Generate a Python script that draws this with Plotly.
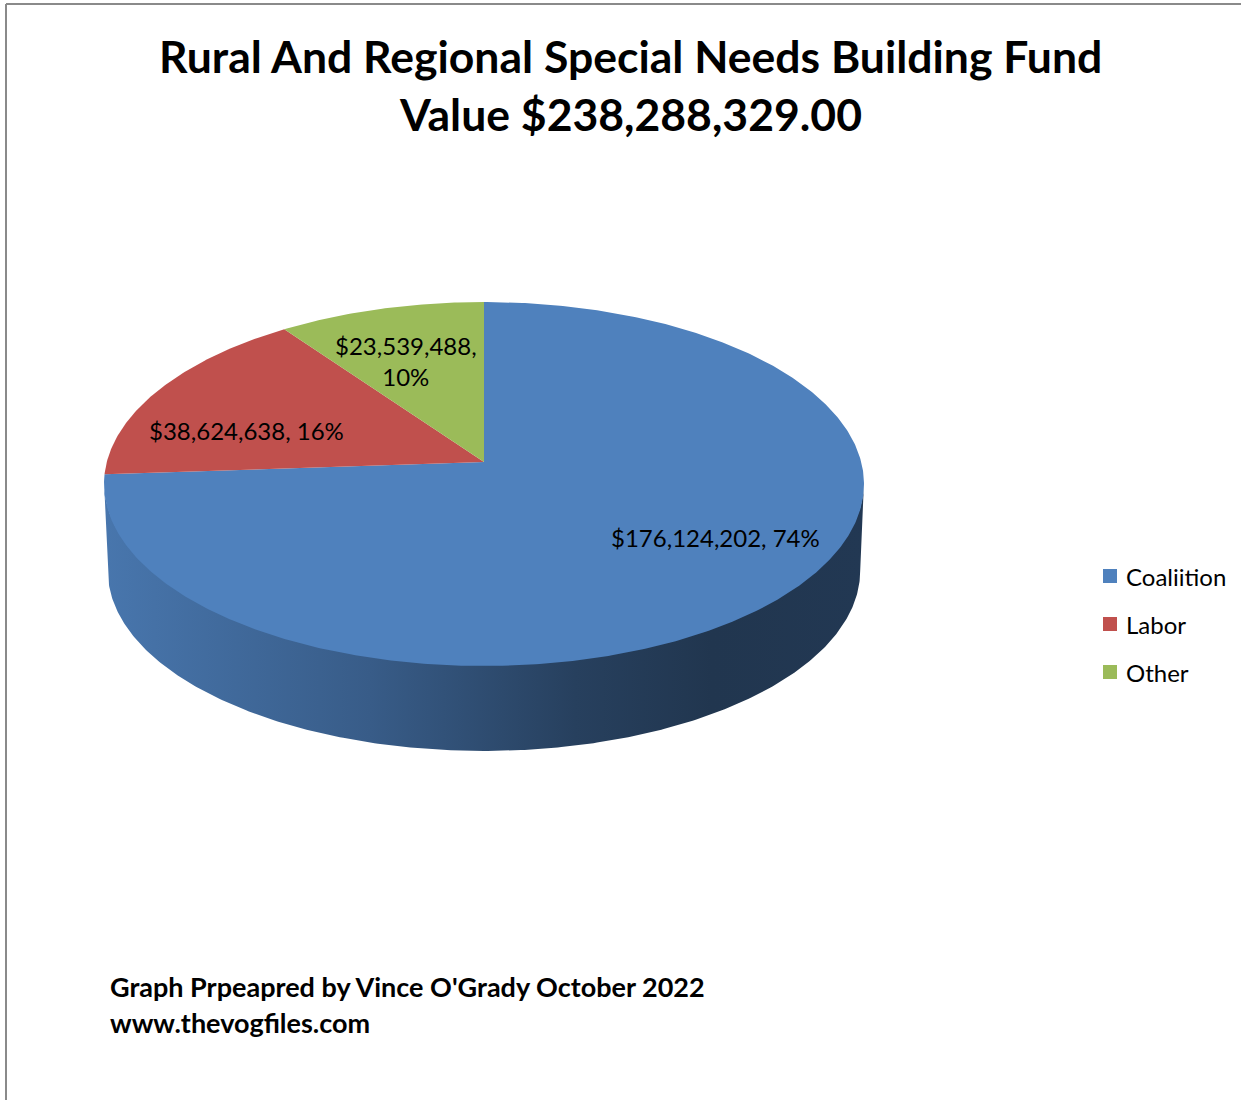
import math
import plotly.graph_objects as go

# ---------------- data ----------------
categories = ["Coaliition", "Labor", "Other"]
values = [176124202, 38624638, 23539488]
title_lines = ["Rural And Regional Special Needs Building Fund", "Value $238,288,329.00"]
footer_lines = ["Graph Prpeapred by Vince O'Grady October 2022", "www.thevogfiles.com"]

# ---------------- style ----------------
W, H = 1241, 1100
COLORS = ["#4F81BD", "#C0504D", "#9BBB59"]
FONT = "Lato, 'Open Sans', sans-serif"
CX, CY = 484, 462          # projected centre of the top face
R, S, K = 377.2, 179.3, 0.121   # perspective ellipse parameters
DEPTH, BOT_SCALE = 87, 0.99
SEAM = 2.0                 # side drawn slightly under the top face to hide seam
LABEL_POS = [(715, 537), (246, 430), (406, 361)]


def proj(u, v, bottom=False):
    w = 1 + K * v
    if bottom:
        return CX + R * BOT_SCALE * u / w, CY + DEPTH - S * BOT_SCALE * v / w
    return CX + R * u / w, CY - S * v / w


def rim(a0, a1, bottom=False, n=None):
    n = n or max(4, int(abs(a1 - a0) * 2))
    pts = []
    for i in range(n + 1):
        t = math.radians(a0 + (a1 - a0) * i / n)
        pts.append(proj(math.sin(t), math.cos(t), bottom))
    return pts


def shade(hexc, f):
    r, g, b = int(hexc[1:3], 16), int(hexc[3:5], 16), int(hexc[5:7], 16)
    return "rgb(%d,%d,%d)" % (r * f, g * f, b * f)


total = sum(values)
angles = []
acc = 0.0
for v in values:
    a0 = acc / total * 360
    acc += v
    angles.append((a0, acc / total * 360))

fig = go.Figure()

# visible front side range (silhouette where cos(theta) = -K)
vis0 = math.degrees(math.acos(-K))
vis1 = 360 - vis0

for (a0, a1), c in zip(angles, COLORS):
    s0, s1 = max(a0, vis0), min(a1, vis1)
    if s1 <= s0:
        continue
    top = [(x, y - SEAM) for x, y in rim(s0, s1)]
    bot = rim(s0, s1, bottom=True)[::-1]
    pts = top + bot + [top[0]]
    fig.add_trace(go.Scatter(
        x=[p[0] for p in pts], y=[p[1] for p in pts], mode="lines",
        fill="toself", line=dict(width=0), hoverinfo="skip", showlegend=False,
        fillgradient=dict(type="horizontal", colorscale=[
            [0.0, shade(c, 0.92)], [0.35, shade(c, 0.72)], [0.62, shade(c, 0.50)],
            [0.8, shade(c, 0.42)], [1.0, shade(c, 0.44)]]),
    ))

for (a0, a1), c, name in zip(angles, COLORS, categories):
    pts = [(CX, CY)] + rim(a0, a1) + [(CX, CY)]
    fig.add_trace(go.Scatter(
        x=[p[0] for p in pts], y=[p[1] for p in pts], mode="lines",
        fill="toself", fillcolor=c, line=dict(width=0, color=c),
        name=name, hoverinfo="name", showlegend=False,
    ))

# data labels
for i, (v, (lx, ly)) in enumerate(zip(values, LABEL_POS)):
    pct = round(v / total * 100)
    txt = f"${v:,}, {pct}%" if i < 2 else f"${v:,},<br>{pct}%"
    fig.add_annotation(x=lx, y=ly, text=txt, showarrow=False,
                       font=dict(family=FONT, size=24, color="black"))

# legend
for i, (name, c) in enumerate(zip(categories, COLORS)):
    y = 576 + 48 * i
    fig.add_shape(type="rect", x0=1103, x1=1117, y0=y - 7, y1=y + 7,
                  fillcolor=c, line=dict(width=0))
    fig.add_annotation(x=1124, y=y, text=name, showarrow=False, xanchor="left",
                       font=dict(family=FONT, size=24, color="black"))

# title
for i, t in enumerate(title_lines):
    fig.add_annotation(x=630, y=55 + 58 * i, text=f"<b>{t}</b>", showarrow=False,
                       font=dict(family=FONT, size=44.5, color="black"))

# footer
for i, t in enumerate(footer_lines):
    fig.add_annotation(x=108, y=986 + 36 * i, text=f"<b>{t}</b>", showarrow=False,
                       xanchor="left", font=dict(family=FONT, size=27, color="black"))

# frame
fig.add_shape(type="line", x0=6, x1=W, y0=4, y1=4, line=dict(color="#8a8a8a", width=2))
fig.add_shape(type="line", x0=6, x1=6, y0=4, y1=H, line=dict(color="#8a8a8a", width=2))

fig.update_layout(
    width=W, height=H, margin=dict(l=0, r=0, t=0, b=0),
    paper_bgcolor="white", plot_bgcolor="white", showlegend=False,
    xaxis=dict(range=[0, W], visible=False, fixedrange=True),
    yaxis=dict(range=[H, 0], visible=False, fixedrange=True),
)
fig.write_html("out.html", config={"displayModeBar": False},
               post_script="document.body.style.margin='0';document.body.style.overflow='hidden';")
